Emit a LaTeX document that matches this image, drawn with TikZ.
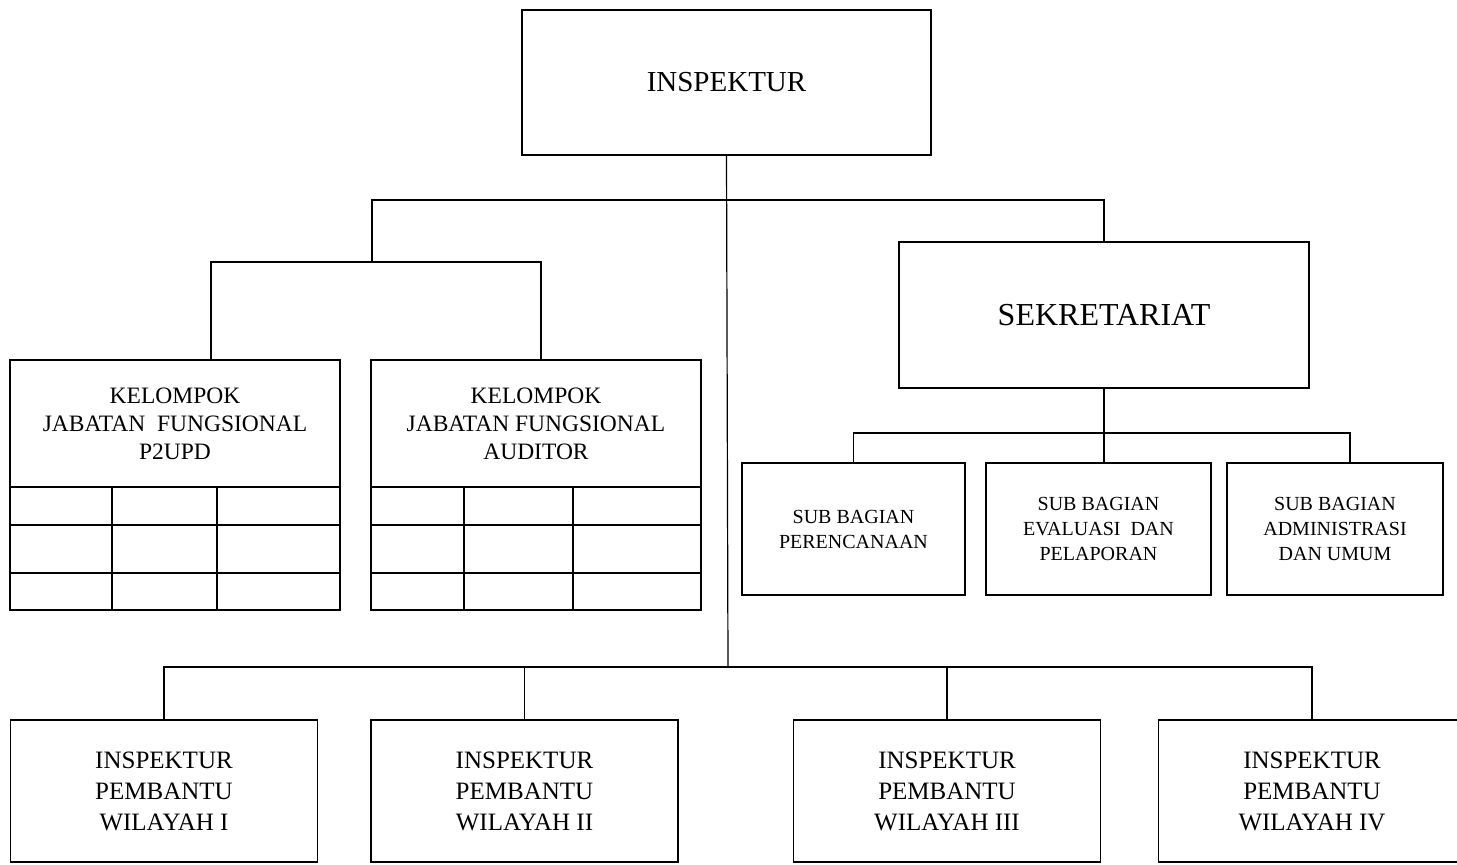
\documentclass[tikz,border=0pt]{standalone}
\usepackage{fontspec}
\setmainfont{Liberation Serif}
\begin{document}
\begin{tikzpicture}[
    x=0.5pt, y=-0.5pt,
    line width=0.6pt,
    every node/.style={draw, rectangle, align=center, inner sep=0pt, outer sep=0pt},
    kepala/.style={minimum width=204.5pt, minimum height=72.5pt, font=\fontsize{14.5}{17}\selectfont},
    sekret/.style={minimum width=205pt, minimum height=73pt, font=\fontsize{16}{19}\selectfont},
    kelompok/.style={minimum width=165pt, minimum height=63.5pt, font=\fontsize{11.75}{14}\selectfont},
    subbag/.style={minimum height=66pt, font=\fontsize{10}{12.5}\selectfont},
    irban/.style={minimum width=153.5pt, minimum height=71pt, font=\fontsize{12.5}{15.5}\selectfont}
]
\useasboundingbox (0,0) rectangle (1457,865);
\clip (0,0) rectangle (1457,865);

% kepala dan sekretariat
\node[kepala] (inspektur) at (726.5,82.5) {INSPEKTUR};
\node[sekret] (sekretariat) at (1104,315) {SEKRETARIAT};

% kelompok jabatan fungsional
\node[kelompok] (p2upd) at (175,423.5) {KELOMPOK\\JABATAN\ \ FUNGSIONAL\\P2UPD};
\node[kelompok] (auditor) at (536,423.5) {KELOMPOK\\JABATAN FUNGSIONAL\\AUDITOR};
\foreach \xa/\xb/\ca/\cb in {10/340/112/217, 371/701/464/573} {
    \draw (\xa,487) rectangle (\xb,610);
    \draw (\xa,525) -- (\xb,525) (\xa,573) -- (\xb,573);
    \draw (\ca,487) -- (\ca,610) (\cb,487) -- (\cb,610);
}

% sub bagian
\node[subbag, minimum width=111.5pt] (sbperencanaan) at (853.5,529) {SUB BAGIAN\\PERENCANAAN};
\node[subbag, minimum width=112.5pt] (sbevaluasi) at (1098.5,529) {SUB BAGIAN\\EVALUASI\ \ DAN\\PELAPORAN};
\node[subbag, minimum width=108pt] (sbadmin) at (1335,529) {SUB BAGIAN\\ADMINISTRASI\\DAN UMUM};

% inspektur pembantu
\node[irban] (ipw1) at (164,791) {INSPEKTUR\\PEMBANTU\\WILAYAH I};
\node[irban] (ipw2) at (524.5,791) {INSPEKTUR\\PEMBANTU\\WILAYAH II};
\node[irban] (ipw3) at (947,791) {INSPEKTUR\\PEMBANTU\\WILAYAH III};
\node[irban] (ipw4) at (1312,791) {INSPEKTUR\\PEMBANTU\\WILAYAH IV};

% garis
\coordinate (busatas) at (728,200);
\coordinate (kelbus) at (372,262);
\coordinate (sekbus) at (1104,433);
\coordinate (busbawah) at (728,667);

\draw (inspektur.south) -- (busbawah);
\draw (kelbus) |- (busatas) -| (sekretariat.north);
\draw ([xshift=18pt]p2upd.north) |- (kelbus) -| ([xshift=2.5pt]auditor.north);
\draw (sekretariat.south) -- (sekbus |- sbevaluasi.north);
\draw (sbperencanaan.north) |- (sekbus) -| ([xshift=7.5pt]sbadmin.north);
\draw (ipw1.north) |- (busbawah) -| (ipw4.north);
\draw (ipw2.north) -- (ipw2.north |- busbawah);
\draw (ipw3.north) -- (ipw3.north |- busbawah);
\end{tikzpicture}
\end{document}
